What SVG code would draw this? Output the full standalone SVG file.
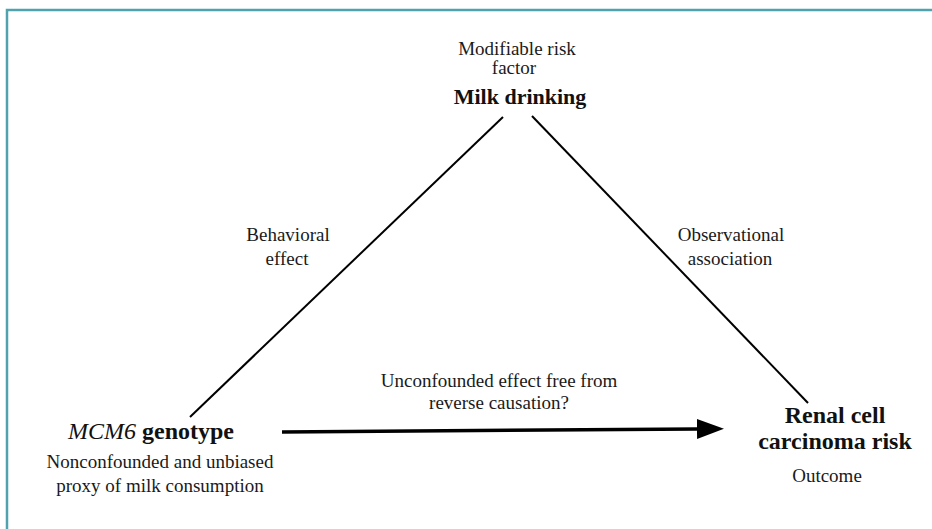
<svg xmlns="http://www.w3.org/2000/svg" width="932" height="529" viewBox="0 0 932 529">
<style>
.t{font-family:"Liberation Serif","Times New Roman",serif;font-size:19px;fill:#1a1a1a;text-anchor:middle}
.b{font-family:"Liberation Serif","Times New Roman",serif;font-size:24px;font-weight:bold;fill:#111;text-anchor:middle}
.i{font-style:italic;font-weight:normal}
.ln{stroke:#000;stroke-width:2;fill:none}
</style>
<defs>
<marker id="ah" viewBox="0 0 27 20" refX="0" refY="10" markerWidth="27" markerHeight="20" markerUnits="userSpaceOnUse" orient="auto">
<path d="M0,0 L27,10 L0,20 Z" fill="#000"/>
</marker>
</defs>
<rect x="7" y="10" width="960" height="560" fill="#fff" stroke="#4ea3ad" stroke-width="2.5"/>
<g id="connectors">
<line class="ln" x1="190" y1="417" x2="503" y2="117"/>
<line class="ln" x1="532" y1="116" x2="808" y2="403"/>
<line x1="282" y1="432" x2="697" y2="429" stroke="#000" stroke-width="3.5" marker-end="url(#ah)"/>
<text class="t" x="288" y="241">Behavioral</text>
<text class="t" x="287" y="265">effect</text>
<text class="t" x="731" y="241">Observational</text>
<text class="t" x="730" y="265">association</text>
<text class="t" x="499" y="387">Unconfounded effect free from</text>
<text class="t" x="499" y="409">reverse causation?</text>
</g>
<g id="milk">
<text class="t" x="517" y="55">Modifiable risk</text>
<text class="t" x="514" y="74">factor</text>
<text class="b" x="520" y="104" style="font-size:22px">Milk drinking</text>
</g>
<g id="mcm6">
<text class="b" x="151" y="439"><tspan class="i">MCM6</tspan> genotype</text>
<text class="t" x="160" y="468">Nonconfounded and unbiased</text>
<text class="t" x="160" y="492">proxy of milk consumption</text>
</g>
<g id="renal">
<text class="b" x="835" y="423">Renal cell</text>
<text class="b" x="835" y="449">carcinoma risk</text>
<text class="t" x="827" y="482">Outcome</text>
</g>
</svg>
